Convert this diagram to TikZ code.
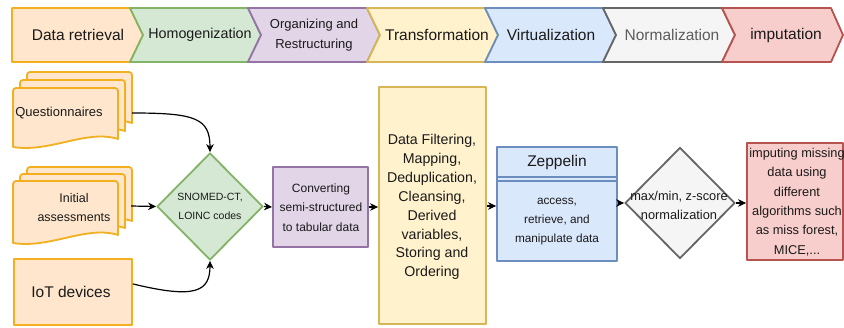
\documentclass[tikz,border=0pt]{standalone}
\usepackage{fontspec}
\setmainfont{Liberation Sans}
\usetikzlibrary{arrows.meta,shapes.geometric}
\definecolor{orF}{HTML}{FFE6CC}\definecolor{orS}{HTML}{F2B01E}
\definecolor{grF}{HTML}{D5E8D4}\definecolor{grS}{HTML}{82B366}
\definecolor{puF}{HTML}{E1D5E7}\definecolor{puS}{HTML}{9673A6}
\definecolor{yeF}{HTML}{FFF2CC}\definecolor{yeS}{HTML}{D6B656}
\definecolor{blF}{HTML}{DAE8FC}\definecolor{blS}{HTML}{6C8EBF}
\definecolor{gyF}{HTML}{F5F5F5}\definecolor{gyS}{HTML}{666666}
\definecolor{reF}{HTML}{F8CECC}\definecolor{reS}{HTML}{B85450}
\definecolor{txt}{HTML}{1A1A1A}
\newcommand\mydoc[4]{% x y w h
  \draw[shp,draw=orS,fill=orF] ({#1+#3},{#2+#4-8})
    .. controls ({#1+0.7*#3},{#2+#4-18}) and ({#1+0.35*#3},{#2+#4+6}) .. ({#1},{#2+#4})
    [rounded corners=3pt] -- ({#1},{#2}) -- ({#1+#3},{#2}) [sharp corners] -- cycle;}
\begin{document}
\begin{tikzpicture}[x=1pt,y=-1pt,
  shp/.style={line width=1.8pt,line join=round},
  conn/.style={line width=1.2pt,-{Stealth[length=8pt,width=7.5pt,inset=2.5pt]}},
  lbl/.style={inner sep=0pt,align=center,text=txt}]
\useasboundingbox (0,0) rectangle (844,327);
\clip (0,0) rectangle (844,327);
\fill[white] (0,0) rectangle (844,327);
% ---- top chevrons ----
\draw[shp,draw=orS,fill=orF] (12,8) -- (130,8) -- (143,35) -- (130,62) -- (12,62) -- cycle;
\draw[shp,draw=grS,fill=grF] (130,8) -- (248,8) -- (261,35) -- (248,62) -- (130,62) -- (143,35) -- cycle;
\draw[shp,draw=puS,fill=puF] (248,8) -- (367,8) -- (380,35) -- (367,62) -- (248,62) -- (261,35) -- cycle;
\draw[shp,draw=yeS,fill=yeF] (367,8) -- (485,8) -- (498,35) -- (485,62) -- (367,62) -- (380,35) -- cycle;
\draw[shp,draw=blS,fill=blF] (485,8) -- (603,8) -- (616,35) -- (603,62) -- (485,62) -- (498,35) -- cycle;
\draw[shp,draw=gyS,fill=gyF] (603,8) -- (722,8) -- (735,35) -- (722,62) -- (603,62) -- (616,35) -- cycle;
\draw[shp,draw=reS,fill=reF] (722,8) -- (831,8) -- (843,35) -- (831,62) -- (722,62) -- (735,35) -- cycle;
\node[lbl,font=\fontsize{15.5}{18}\selectfont] (s1) at (78,35) {Data retrieval};
\node[lbl,font=\fontsize{14.3}{18}\selectfont] (s2) at (200,35) {Homogenization};
\node[lbl,font=\fontsize{13}{20}\selectfont] (s3) at (314,35) {Organizing and\\Restructuring};
\node[lbl,font=\fontsize{15.5}{18}\selectfont] (s4) at (437,35) {Transformation};
\node[lbl,font=\fontsize{15.5}{18}\selectfont] (s5) at (551,35) {Virtualization};
\node[lbl,font=\fontsize{15.5}{18}\selectfont,text=gyS!90!black] (s6) at (672,35) {Normalization};
\node[lbl,font=\fontsize{15.5}{18}\selectfont] (s7) at (786,35) {imputation};
% ---- sources ----
\mydoc{27}{72}{105}{59}
\mydoc{20}{80}{105}{59}
\mydoc{13}{88}{105}{59}
\node[inner sep=0pt,minimum width=119pt,minimum height=82pt] (qs) at (72.5,113) {};
\node[lbl,font=\fontsize{13}{18}\selectfont] (q) at (59,113) {Questionnaires};
\mydoc{27}{167}{105}{62}
\mydoc{20}{174}{105}{62}
\mydoc{13}{181}{105}{62}
\node[inner sep=0pt,minimum width=117pt,minimum height=76pt] (ia) at (72.5,206) {};
\node[lbl,font=\fontsize{12.5}{19}\selectfont] (ial) at (74,207.5) {Initial\\assessments};
\node[draw=orS,fill=orF,shp,minimum width=118pt,minimum height=66pt,inner sep=0pt,anchor=north west] (iot) at (13,258) {};
\node[lbl,font=\fontsize{15.5}{18}\selectfont] (iotl) at (71,292) {IoT devices};
% ---- homogenization diamond ----
\node[diamond,shp,draw=grS,fill=grF,minimum width=106pt,minimum height=107pt,inner sep=0pt] (sn) at (210,206.5) {};
\node[lbl,font=\fontsize{10.5}{19}\selectfont] (snl) at (210,206) {SNOMED-CT,\\LOINC codes};
% ---- converting ----
\node[shp,draw=puS,fill=puF,minimum width=95pt,minimum height=80pt,inner sep=0pt] (cv) at (320.5,207) {};
\node[lbl,font=\fontsize{12}{19.5}\selectfont] (cvl) at (321,207.5) {Converting\\semi-structured\\to tabular data};
% ---- transformation ----
\node[shp,draw=yeS,fill=yeF,minimum width=107pt,minimum height=237pt,inner sep=0pt] (tr) at (432.5,205.5) {};
\node[lbl,font=\fontsize{14.2}{18.9}\selectfont] (trl) at (432,207) {Data Filtering,\\Mapping,\\Deduplication,\\Cleansing,\\Derived\\variables,\\Storing and\\Ordering};
% ---- zeppelin ----
\node[shp,draw=blS,fill=blF,minimum width=120pt,minimum height=114pt,inner sep=0pt] (zp) at (557,204) {};
\draw[shp,draw=blS] (zp.west |- 0,177) -- (zp.east |- 0,177);
\draw[shp,draw=blS] (zp.west |- 0,181) -- (zp.east |- 0,181);
\node[lbl,font=\fontsize{15.5}{18}\selectfont] (zpl) at (557,162) {Zeppelin};
\node[lbl,font=\fontsize{11.8}{18.8}\selectfont] (zpb) at (557,221.5) {access,\\retrieve, and\\manipulate data};
% ---- normalization diamond ----
\node[diamond,shp,draw=gyS,fill=gyF,minimum width=110pt,minimum height=111pt,inner sep=0pt] (nm) at (680,203) {};
\node[lbl,font=\fontsize{12.8}{19}\selectfont] (nml) at (679,205.5) {max/min, z-score\\normalization};
% ---- imputation ----
\node[shp,draw=reS,fill=reF,minimum width=96pt,minimum height=117pt,inner sep=0pt] (im) at (795,201.5) {};
\node[lbl,font=\fontsize{12.8}{19.4}\selectfont] (iml) at (797,202) {imputing missing\\data using\\different\\algorithms such\\as miss forest,\\MICE,...};
% ---- connectors ----
\draw[conn] (qs.east) .. controls (195,113) and (210,118) .. (sn.north);
\draw[conn] (ia.east) -- (sn.west);
\draw[conn] ([yshift=8pt]iot.east) .. controls (195,299) and (210,292) .. (sn.south);
\draw[conn] (sn.east) -- (cv.west);
\draw[conn] (cv.east) -- (tr.west |- cv.east);
\draw[conn] (tr.east |- 0,206) -- (zp.west |- 0,206);
\draw[conn] (zp.east |- nm.west) -- (nm.west);
\draw[conn] (nm.east) -- (im.west |- nm.east);
\end{tikzpicture}
\end{document}
